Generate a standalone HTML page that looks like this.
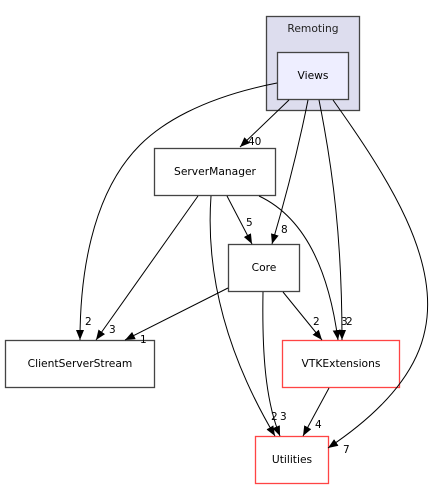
<!DOCTYPE html>
<html><head><meta charset="utf-8"><style>html,body{margin:0;padding:0;background:#fff}</style></head>
<body>
<svg width="435" height="489" viewBox="0 0 435 489" xmlns="http://www.w3.org/2000/svg" font-family="DejaVu Sans, Liberation Sans, sans-serif">
<defs>
<marker id="a" viewBox="0 0 10 8" refX="10" refY="4" markerWidth="10" markerHeight="8" markerUnits="userSpaceOnUse" orient="auto">
<path d="M0,0 L10,4 L0,8 z" fill="#000"/>
</marker>
</defs>
<rect x="266.5" y="16.5" width="93" height="94" fill="#ddddee" stroke="#444" stroke-width="1.3"/>
<text x="313" y="32" font-size="10.7" text-anchor="middle" fill="#222">Remoting</text>
<rect x="277.5" y="52.5" width="71" height="47" fill="#eeeeff" stroke="#444" stroke-width="1.3"/>
<text x="313" y="79" font-size="10.7" text-anchor="middle">Views</text>
<rect x="154.5" y="148.5" width="121" height="47" fill="#fff" stroke="#444" stroke-width="1.3"/>
<text x="215" y="175" font-size="10.7" text-anchor="middle">ServerManager</text>
<rect x="228.5" y="244.5" width="71" height="47" fill="#fff" stroke="#444" stroke-width="1.3"/>
<text x="264" y="271" font-size="10.7" text-anchor="middle">Core</text>
<rect x="5.5" y="340.5" width="149" height="47" fill="#fff" stroke="#444" stroke-width="1.3"/>
<text x="80" y="367" font-size="10.7" text-anchor="middle">ClientServerStream</text>
<rect x="282.5" y="340.5" width="117" height="47" fill="#fff" stroke="#ff4444" stroke-width="1.3"/>
<text x="341" y="367" font-size="10.7" text-anchor="middle">VTKExtensions</text>
<rect x="255.5" y="436.5" width="73" height="47" fill="#fff" stroke="#ff4444" stroke-width="1.3"/>
<text x="292" y="463" font-size="10.7" text-anchor="middle">Utilities</text>
<g fill="none" stroke="#000" stroke-width="1" marker-end="url(#a)">
<path d="M277,83 C200,98 160,125 140,145 C90,195 80,280 80,340"/>
<path d="M289,100 L240,147"/>
<path d="M308,100 C298,150 285,200 272,244"/>
<path d="M319,100 C333,170 342,240 342,340"/>
<path d="M333,100 C390,180 440,260 425,330 C415,380 370,420 328,448"/>
<path d="M198,196 L96,340"/>
<path d="M227,196 L252,244"/>
<path d="M259,196 C310,220 330,280 338,340"/>
<path d="M211,196 C205,280 230,360 275,436"/>
<path d="M228,288 L125,340"/>
<path d="M263,292 C262,350 265,400 280,436"/>
<path d="M283,292 L322,340"/>
<path d="M329,388 L303,436"/>
</g>
<g font-size="10.5" fill="#000">
<text x="85" y="325">2</text>
<text x="248" y="145">40</text>
<text x="281" y="233">8</text>
<text x="346" y="325">2</text>
<text x="343" y="453">7</text>
<text x="109" y="333">3</text>
<text x="246" y="226">5</text>
<text x="341" y="325">3</text>
<text x="271" y="420">2</text>
<text x="140" y="343">1</text>
<text x="280" y="420">3</text>
<text x="313" y="325">2</text>
<text x="315" y="428">4</text>
</g>
</svg>
</body></html>
